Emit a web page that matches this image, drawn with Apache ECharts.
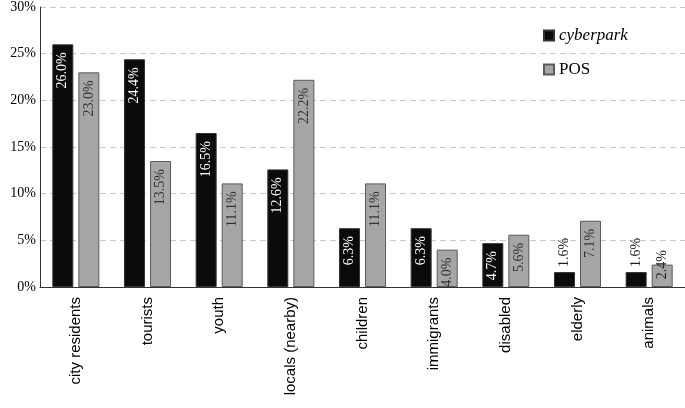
<!DOCTYPE html>
<html><head><meta charset="utf-8">
<script src="https://cdn.jsdelivr.net/npm/echarts@6/dist/echarts.min.js"></script>
<style>html,body{margin:0;padding:0;background:#fff}#c{width:685px;height:408px}</style>
</head><body><div id="c"></div>
<script>
var categories = ['city residents','tourists','youth','locals (nearby)','children','immigrants','disabled','elderly','animals'];
var cyberpark = [26.0,24.4,16.5,12.6,6.3,6.3,4.7,1.6,1.6];
var pos = [23.0,13.5,11.1,22.2,11.1,4.0,5.6,7.1,2.4];
var yTicks = [0,5,10,15,20,25,30];

function mkData(vals, inColor){
  return vals.map(function(v){
    var lab;
    if (v < 2) lab = {position:'top', align:'left', color:'#222', distance:5};
    else if (v < 3) lab = {position:'top', align:'center', color:'#222', distance:0};
    else lab = {position:'insideTop', align:'right', color:inColor, distance:8};
    return {value:v, label:lab};
  });
}
var chart = echarts.init(document.getElementById('c'));
var serif = '"Liberation Serif","Times New Roman",serif';
var fmt = function(p){return p.value.toFixed(1)+'%';};
chart.setOption({
  animation:false,
  grid:{left:40,right:0,top:5,bottom:121,containLabel:false},
  legend:{orient:'vertical',left:543,top:27,padding:0,itemWidth:10,itemHeight:10,itemGap:17,icon:'rect',
    textStyle:{fontFamily:serif,fontSize:17,color:'#000'},
    data:[{name:'cyberpark',textStyle:{fontStyle:'italic'}},{name:'POS'}]},
  xAxis:{type:'category',data:categories,
    axisLine:{lineStyle:{color:'#333',width:1}},axisTick:{show:false},
    axisLabel:{rotate:90,interval:0,fontFamily:'"Liberation Sans",Arial,sans-serif',fontSize:15,color:'#000',margin:10}},
  yAxis:{type:'value',min:yTicks[0],max:yTicks[yTicks.length-1],interval:5,
    axisLine:{show:true,lineStyle:{color:'#333'}},axisTick:{show:false},
    axisLabel:{formatter:'{value}%',fontFamily:serif,fontSize:14,color:'#000',margin:4},
    splitLine:{lineStyle:{type:[6,4],color:'#c8c8c8'}}},
  series:[
    {name:'cyberpark',type:'bar',data:mkData(cyberpark,'#fff'),barWidth:21,barGap:'24%',
      itemStyle:{color:'#0b0b0b',borderColor:'#333',borderWidth:1},
      label:{show:true,rotate:90,verticalAlign:'middle',fontFamily:serif,fontSize:14,formatter:fmt}},
    {name:'POS',type:'bar',data:mkData(pos,'#333'),barWidth:21,
      itemStyle:{color:'#a6a6a6',borderColor:'#5a5a5a',borderWidth:1},
      label:{show:true,rotate:90,verticalAlign:'middle',fontFamily:serif,fontSize:14,formatter:fmt}}
  ]
});
</script></body></html>
